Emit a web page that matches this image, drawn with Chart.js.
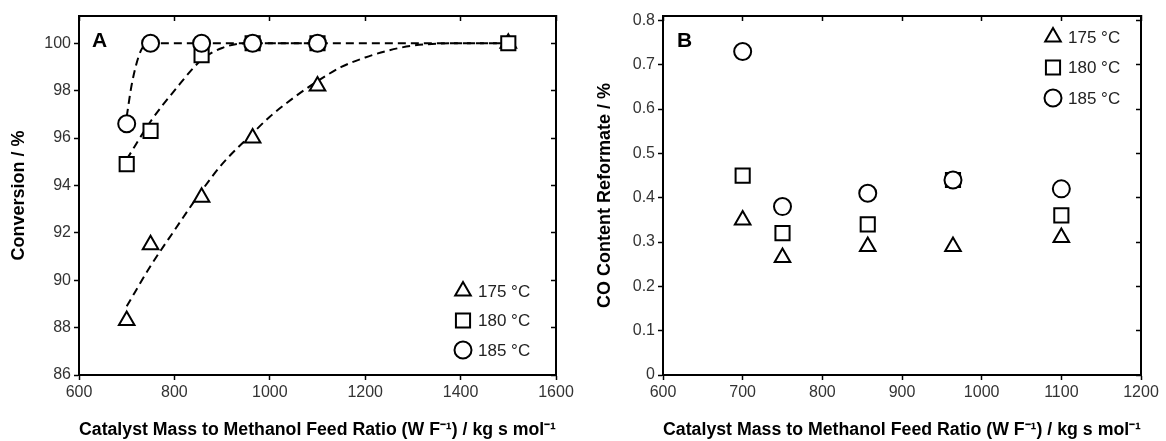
<!DOCTYPE html>
<html>
<head>
<meta charset="utf-8">
<script src="https://cdn.jsdelivr.net/npm/chart.js@4.4.1/dist/chart.umd.min.js"></script>
<style>
  html, body { margin: 0; padding: 0; background: #fff; }
  #wrap { position: relative; width: 1166px; height: 441px; }
  canvas { position: absolute; top: 0; }
</style>
</head>
<body>
<div id="wrap">
  <canvas id="chartA" width="583" height="441" style="left:0"></canvas>
  <canvas id="chartB" width="583" height="441" style="left:583px"></canvas>
</div>
<script>
// legend labels
const tempLabels = ['175 °C', '180 °C', '185 °C'];

// panel A - conversion
const ratioA = [700, 750, 857, 964, 1100, 1500];
const conv175 = [88.3, 91.5, 93.5, 96.0, 98.2, 100];
const conv180 = [94.9, 96.3, 99.5, 100, 100, 100];
const conv185 = [96.6, 100, 100, 100, 100, null];

// dashed fit curves
const fit175x = [700, 750, 800, 858, 900, 964, 1000, 1050, 1100, 1150, 1200, 1250, 1300, 1400, 1500];
const fit175y = [88.9, 90.6, 92.1, 93.8, 94.9, 96.2, 96.9, 97.7, 98.4, 99.0, 99.4, 99.7, 99.9, 100, 100];
const fit180x = [700, 750, 800, 857, 900, 950, 1000, 1100, 1500];
const fit180y = [95.1, 96.7, 98.0, 99.3, 99.8, 100, 100, 100, 100];
const fit185x = [700, 710, 720, 730, 740, 750, 1100];
const fit185y = [96.9, 98.2, 99.1, 99.7, 99.95, 100, 100];

// panel B - CO content
const ratioB = [700, 750, 857, 964, 1100];
const co175 = [0.35, 0.265, 0.29, 0.29, 0.31];
const co180 = [0.45, 0.32, 0.34, 0.44, 0.36];
const co185 = [0.73, 0.38, 0.41, 0.44, 0.42];

// tick labels
const xTicksA = [600, 800, 1000, 1200, 1400, 1600];
const yTicksA = [86, 88, 90, 92, 94, 96, 98, 100];
const xTicksB = [600, 700, 800, 900, 1000, 1100, 1200];
const yTicksB = [0, 0.1, 0.2, 0.3, 0.4, 0.5, 0.6, 0.7, 0.8];

const xTitle = 'Catalyst Mass to Methanol Feed Ratio (W F\u207B\u00B9) / kg s mol\u207B\u00B9';

Chart.defaults.font.family = 'Arial, "Liberation Sans", sans-serif';
Chart.defaults.color = '#222';

const pts = (xs, ys) => xs.map((x, i) => ({ x, y: ys[i] })).filter(p => p.y !== null);
const markerSize = { triangle: 9, rect: 10, circle: 8.5 };

function markers(label, xs, ys, style, order) {
  return {
    label, data: pts(xs, ys), showLine: false,
    pointStyle: style, pointRadius: markerSize[style], pointBorderWidth: 2,
    pointBorderColor: '#000', pointBackgroundColor: '#fff', order
  };
}

function fitLine(xs, ys) {
  return {
    label: '', data: pts(xs, ys), showLine: true, isFit: true,
    borderColor: '#000', borderWidth: 2, borderDash: [8, 5],
    pointRadius: 0, cubicInterpolationMode: 'monotone', fill: false, order: 10
  };
}

const useTicks = arr => scale => { scale.ticks = arr.map(v => ({ value: v })); };
const frame = { color: '#000', width: 2 };

function makeScales(xMin, xMax, yMin, yMax, xTicks, yTicks, yTitle, yTitlePad, yWidth) {
  return {
    x: {
      type: 'linear', position: 'bottom', min: xMin, max: xMax,
      afterBuildTicks: useTicks(xTicks),
      grid: { drawOnChartArea: false, tickLength: 5, tickWidth: 1.5, tickColor: '#000' },
      border: frame,
      ticks: { color: '#333', font: { size: 16 }, padding: 3, maxRotation: 0, autoSkip: false, callback: v => String(v) },
      title: { display: true, text: xTitle, color: '#000', font: { size: 18, weight: 'bold' }, padding: { top: 0, bottom: 0 } },
      afterFit: s => { s.height = 66; }
    },
    xTop: {
      type: 'linear', position: 'top', min: xMin, max: xMax,
      afterBuildTicks: useTicks(xTicks),
      grid: { drawOnChartArea: false, tickLength: -5, tickWidth: 1.5, tickColor: '#000' },
      border: frame, ticks: { display: false },
      afterFit: s => { s.height = 0; }
    },
    y: {
      type: 'linear', position: 'left', min: yMin, max: yMax,
      afterBuildTicks: useTicks(yTicks),
      grid: { drawOnChartArea: false, tickLength: 5, tickWidth: 1.5, tickColor: '#000' },
      border: frame,
      ticks: { color: '#333', font: { size: 16 }, padding: 3, autoSkip: false, callback: v => String(v) },
      title: { display: true, text: yTitle, color: '#000', font: { size: 18, weight: 'bold' }, padding: { top: yTitlePad, bottom: 0 } },
      afterFit: s => { s.width = yWidth; }
    },
    yRight: {
      type: 'linear', position: 'right', min: yMin, max: yMax,
      afterBuildTicks: useTicks(yTicks),
      grid: { drawOnChartArea: false, tickLength: -5, tickWidth: 1.5, tickColor: '#000' },
      border: frame, ticks: { display: false },
      afterFit: s => { s.width = 0; }
    }
  };
}

// panel letter and legend drawn inside the plot area
const insideLegend = {
  id: 'insideLegend',
  afterDraw(chart, args, opts) {
    const { ctx, chartArea } = chart;
    ctx.save();
    ctx.fillStyle = '#000';
    ctx.font = 'bold 21px Arial, "Liberation Sans", sans-serif';
    ctx.textAlign = 'left';
    ctx.textBaseline = 'middle';
    ctx.fillText(opts.letter, chartArea.left + opts.letterDx, chartArea.top + 25);

    const items = chart.data.datasets.filter(d => !d.isFit);
    const baseY = opts.anchor === 'bottom' ? chartArea.bottom + opts.y0 : chartArea.top + opts.y0;
    const mx = chartArea.right + opts.dx;
    ctx.font = '17px Arial, "Liberation Sans", sans-serif';
    items.forEach((d, i) => {
      const y = baseY + i * opts.gap;
      ctx.fillStyle = '#fff';
      ctx.strokeStyle = '#000';
      ctx.lineWidth = 2;
      Chart.helpers.drawPoint(ctx, { pointStyle: d.pointStyle, radius: d.pointRadius, borderWidth: 2, rotation: 0 }, mx, y);
      ctx.fillStyle = '#222';
      ctx.fillText(d.label, mx + 15, y + 1);
    });
    ctx.restore();
  }
};

const common = {
  responsive: false,
  animation: false,
  events: [],
  plugins: { legend: { display: false }, tooltip: { enabled: false } }
};

new Chart(document.getElementById('chartA'), {
  type: 'scatter',
  data: {
    datasets: [
      markers(tempLabels[0], ratioA, conv175, 'triangle', 3),
      markers(tempLabels[1], ratioA, conv180, 'rect', 2),
      markers(tempLabels[2], ratioA, conv185, 'circle', 1),
      fitLine(fit175x, fit175y),
      fitLine(fit180x, fit180y),
      fitLine(fit185x, fit185y)
    ]
  },
  options: {
    ...common,
    layout: { padding: { left: 0, top: 16, right: 27, bottom: 0 } },
    scales: makeScales(600, 1600, 86, 101.15, xTicksA, yTicksA, 'Conversion / %', 8, 79),
    plugins: {
      ...common.plugins,
      insideLegend: { letter: 'A', letterDx: 13, anchor: 'bottom', y0: -84, gap: 29.5, dx: -93 }
    }
  },
  plugins: [insideLegend]
});

new Chart(document.getElementById('chartB'), {
  type: 'scatter',
  data: {
    datasets: [
      markers(tempLabels[0], ratioB, co175, 'triangle', 3),
      markers(tempLabels[1], ratioB, co180, 'rect', 2),
      markers(tempLabels[2], ratioB, co185, 'circle', 1)
    ]
  },
  options: {
    ...common,
    layout: { padding: { left: 0, top: 16, right: 25, bottom: 0 } },
    scales: makeScales(600, 1200, 0, 0.81, xTicksB, yTicksB, 'CO Content Reformate / %', 11, 80),
    plugins: {
      ...common.plugins,
      insideLegend: { letter: 'B', letterDx: 14, anchor: 'top', y0: 21, gap: 30.5, dx: -88 }
    }
  },
  plugins: [insideLegend]
});
</script>
</body>
</html>
